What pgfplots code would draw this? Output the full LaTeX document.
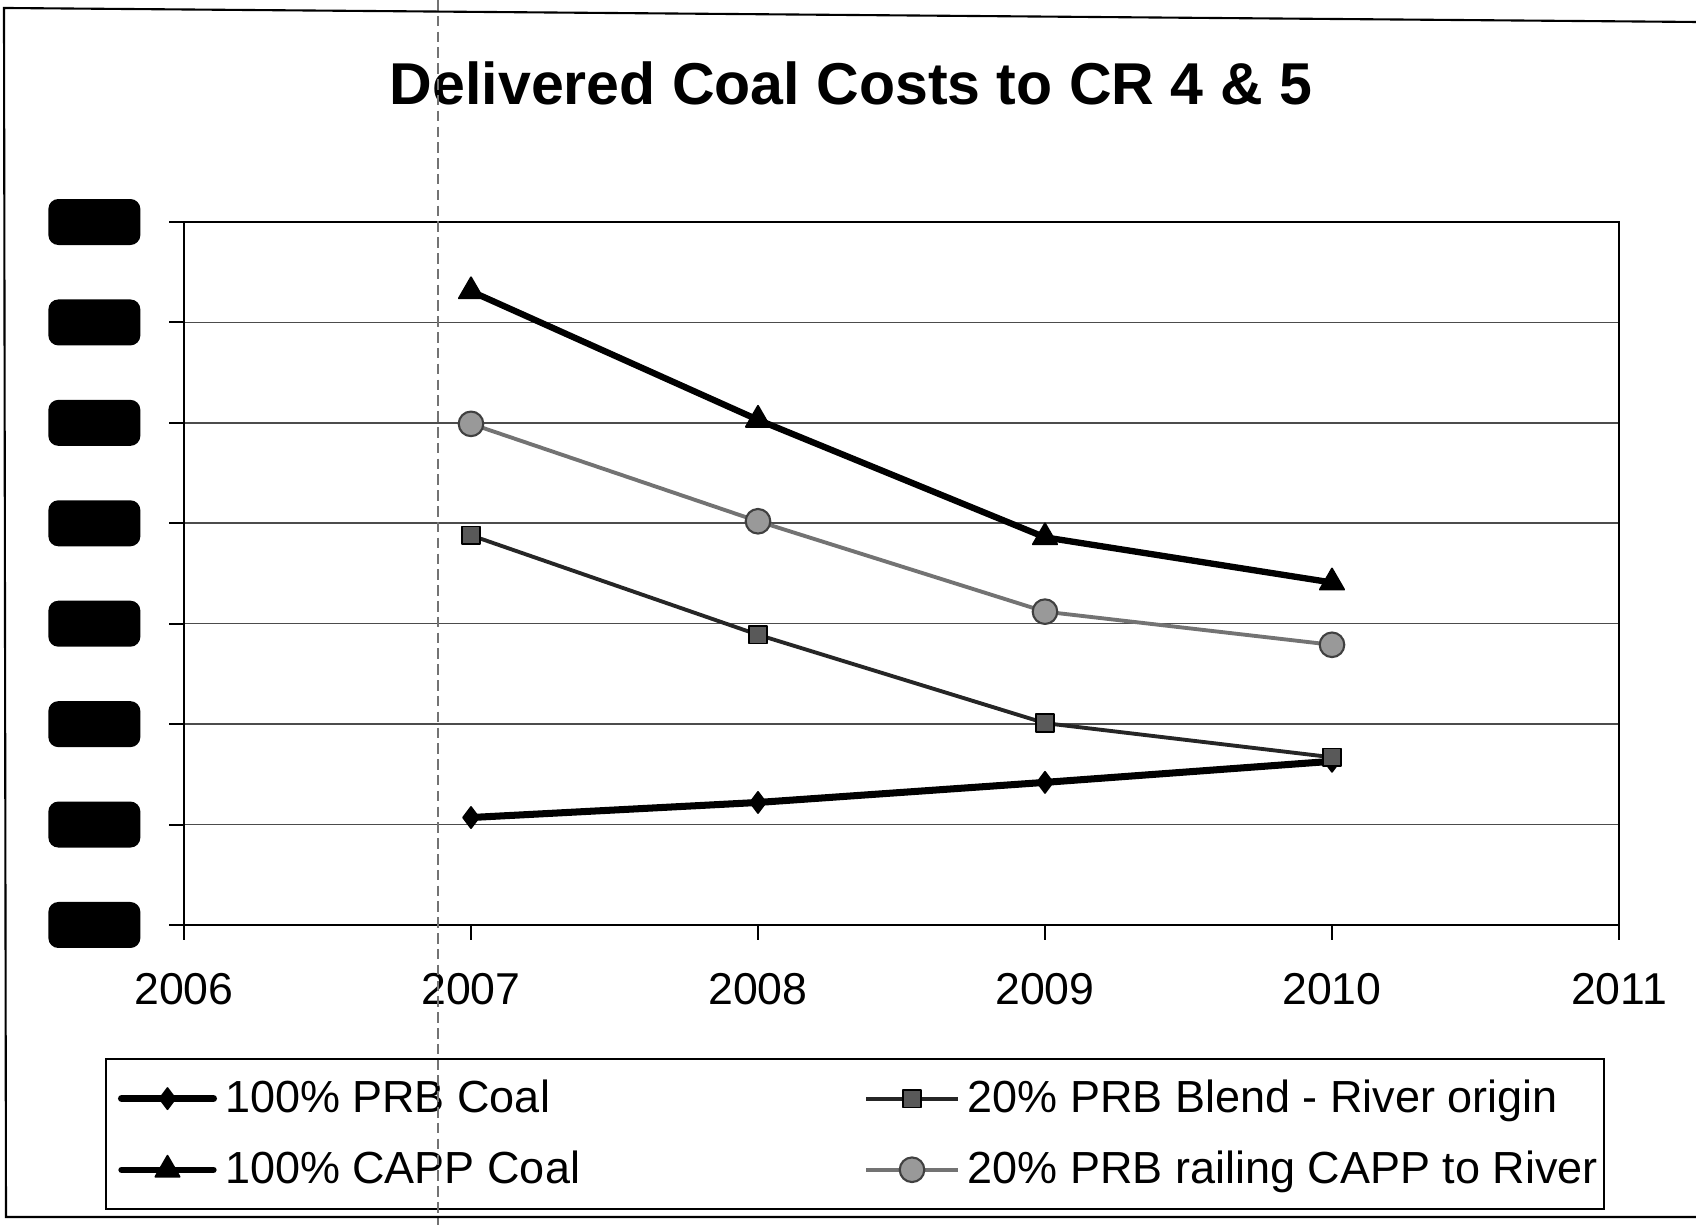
\documentclass[border=0pt]{standalone}
\usepackage{pgfplots}
\pgfplotsset{compat=1.18}
\usepackage{fontspec}
\setmainfont{Liberation Sans}
\begin{document}
\begin{tikzpicture}
\begin{axis}[
  at={(0,0)}, anchor=south west,
  width=14.35cm, height=7.03cm, scale only axis,
  xmin=2006, xmax=2011, ymin=0, ymax=7,
  xtick={2006,2007,2008,2009,2010,2011},
  xticklabels={2006,2007,2008,2009,2010,2011},
  ytick={0,1,2,3,4,5,6,7},
  yticklabel={},
  tick pos=left,
  ymajorgrids, grid style={black!70, line width=0.45pt},
  axis line style={black, line width=0.6pt},
  tick style={black, line width=0.6pt},
  tick align=outside, major tick length=0.15cm,
  /pgf/number format/assume math mode=true,
  xticklabel style={font=\fontsize{12.7}{15}\selectfont, anchor=north, inner sep=0pt, yshift=-0.33cm},
  yticklabel style={fill=black, rounded corners=0.1cm, minimum width=0.92cm, minimum height=0.46cm, inner sep=0pt, anchor=east, xshift=-0.28cm},
  legend columns=2,
  legend cell align=left,
  legend style={at={(-0.0551,-0.1892)}, anchor=north west, draw=black, line width=0.6pt,
    inner xsep=0.06cm, inner ysep=0.22cm, row sep=0.36cm,
    font=\fontsize{12.8}{15}\selectfont,
    nodes={inner sep=0pt, text height=0.9em, text depth=0.1em},
    /tikz/every odd column/.style={column sep=0.08cm},
    /tikz/every even column/.style={column sep=2.78cm}},
  legend image code/.code={\path (0cm,0cm) (0.98cm,0cm);
    \draw[mark repeat=2, mark phase=2, #1] plot coordinates {(0.06cm,0cm) (0.52cm,0cm) (0.98cm,0cm)};},
]
\addplot[black, line width=2pt, line join=round, line cap=round, mark=diamond*, mark size=3pt, mark options={solid, fill=black, line width=0.5pt}]
  coordinates {(2007,1.07) (2008,1.22) (2009,1.42) (2010,1.63)};
\addlegendentry{100\% PRB Coal}
\addplot[black!85, line width=1.1pt, line join=round, mark=square*, mark size=2.5pt, mark options={solid, fill=black!65, draw=black, line width=0.5pt}]
  coordinates {(2007,3.88) (2008,2.89) (2009,2.01) (2010,1.67)};
\addlegendentry{20\% PRB Blend - River origin}
\addplot[black, line width=1.8pt, line join=round, line cap=round, mark=triangle*, mark size=4pt, mark options={solid, fill=black, line width=0.5pt}]
  coordinates {(2007,6.31) (2008,5.03) (2009,3.86) (2010,3.41)};
\addlegendentry{100\% CAPP Coal}
\addplot[black!55, line width=1.1pt, line join=round, mark=*, mark size=3.5pt, mark options={solid, fill=black!40, draw=black!75, line width=0.6pt}]
  coordinates {(2007,4.99) (2008,4.02) (2009,3.12) (2010,2.79)};
\addlegendentry{20\% PRB railing CAPP to River}
\end{axis}
\node[anchor=base, font=\fontsize{16.8}{20}\selectfont\bfseries] at (6.67,8.20) {Delivered Coal Costs to CR 4 \& 5};
\draw[black!55, line width=0.35pt, dash pattern=on 3pt off 1.5pt] (2.54,9.25) -- (2.54,-3.0);
\draw[black, line width=0.6pt] (15.12,9.03) -- (-1.80,9.17) -- (-1.78,-2.92) -- (15.12,-2.92);
\pgfresetboundingbox
\path[use as bounding box] (-1.84,-3.00) rectangle (15.12,9.25);
\end{tikzpicture}
\end{document}
